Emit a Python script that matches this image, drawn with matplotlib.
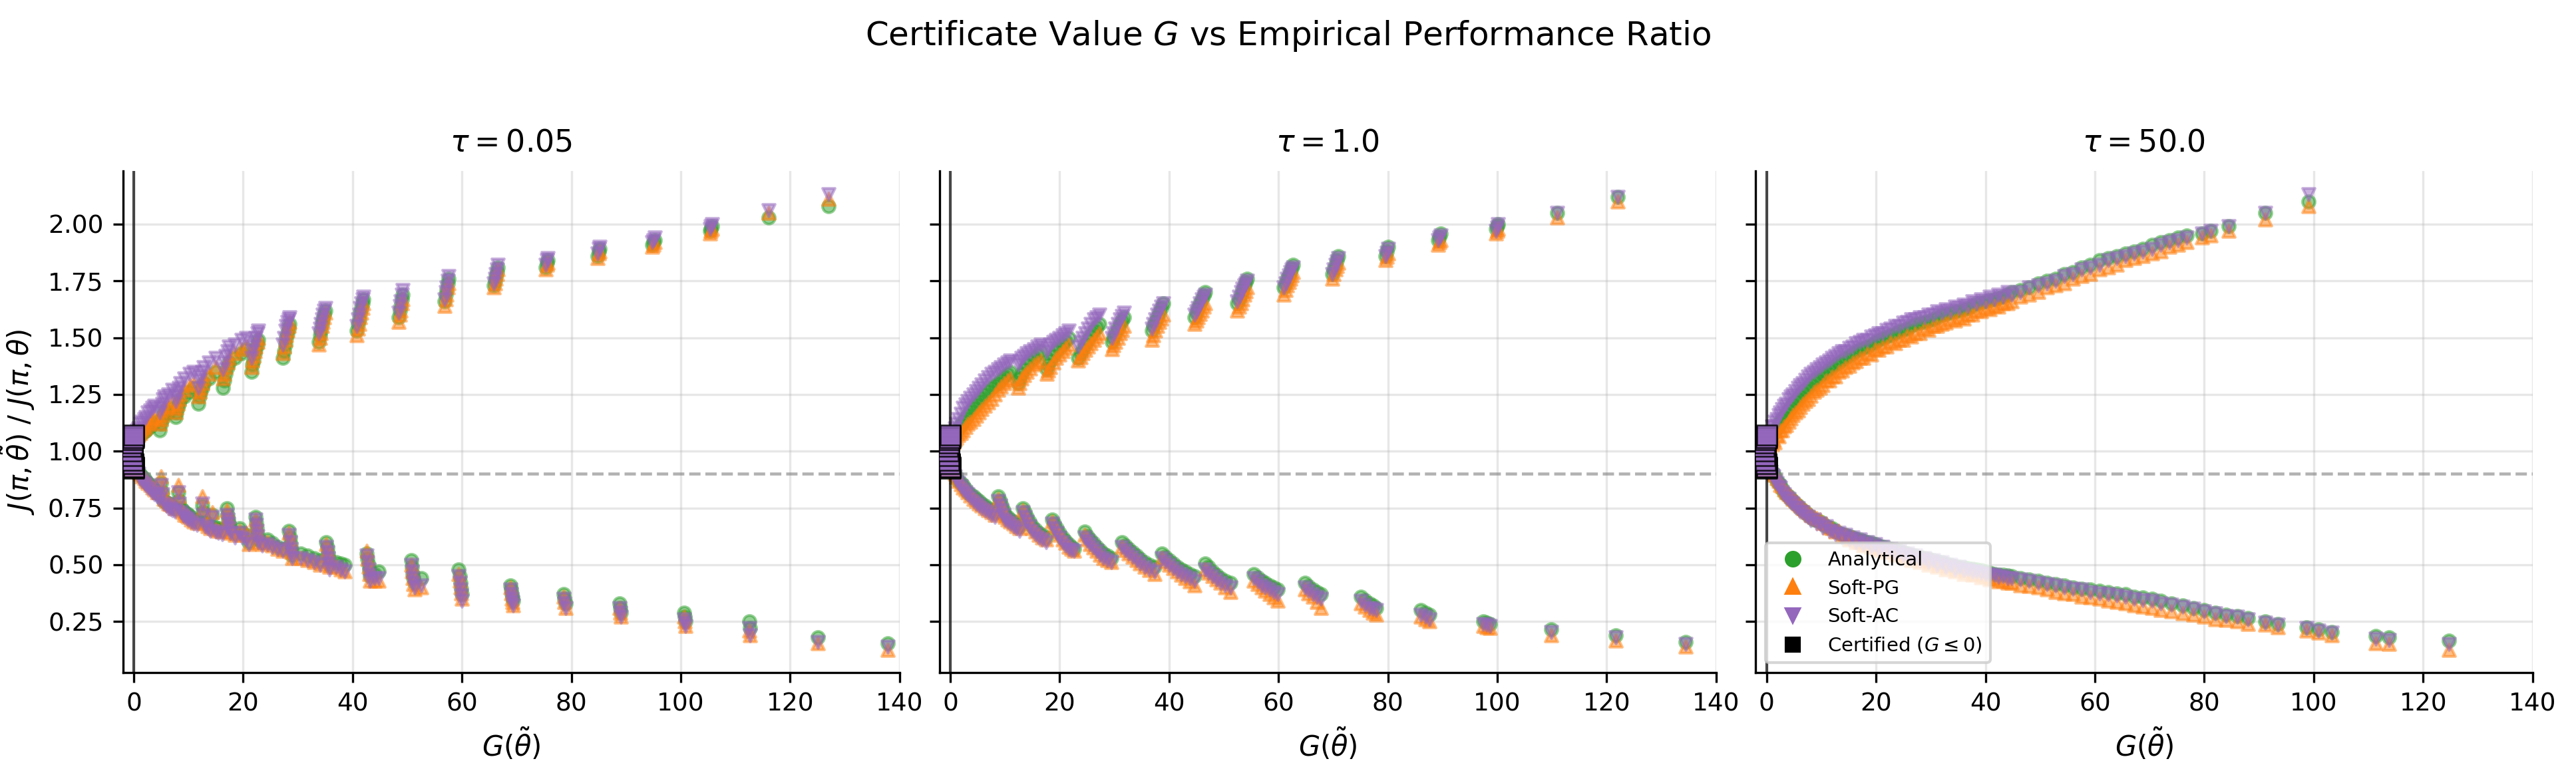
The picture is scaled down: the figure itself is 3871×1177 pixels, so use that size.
import matplotlib
matplotlib.use("Agg")
import matplotlib.pyplot as plt
from matplotlib.lines import Line2D

# ---- data (G value, ratio per method) ----

TAUS = ["0.05", "1.0", "50.0"]
METHODS = ["Analytical", "Soft-PG", "Soft-AC"]
COLORS = {"Analytical": "#2ca02c", "Soft-PG": "#ff7f0e", "Soft-AC": "#9467bd"}
MARKERS = {"Analytical": "o", "Soft-PG": "^", "Soft-AC": "v"}

# certified points (G <= 0), same look in every panel
CERT_G = [0.0, -0.1, -0.2, -0.3, -0.4, -0.5, -0.3, -0.2, -0.1, 0.0]
CERT_R_ANA = [0.925, 0.94, 0.955, 0.97, 0.99, 1.01, 1.03, 1.045, 1.06, 1.065]
CERT_R_PG = [0.93, 0.945, 0.96, 0.975, 0.99, 1.01, 1.025, 1.04, 1.055, 1.06]
CERT_R_AC = [0.93, 0.945, 0.96, 0.98, 1.00, 1.02, 1.035, 1.05, 1.06, 1.07]

# tau = 0.05, upper branch
T1_G_UP = [0.3, 0.8, 1.5, 2.2, 3.0, 3.8, 4.8, 5.2, 5.6, 6.3, 7.0, 7.6, 8.0, 8.5, 9.3, 10.2,
           11.8, 12.2, 12.8, 13.8, 15.0, 16.3, 16.8, 17.4, 18.5, 19.7, 21.5, 21.9, 22.3, 22.8,
           27.3, 27.7, 28.1, 28.5, 33.8, 34.2, 34.6, 35.0, 40.8, 41.2, 41.6, 42.0,
           48.4, 48.8, 49.2, 56.8, 57.2, 57.6, 65.8, 66.2, 66.6, 75.3, 75.7, 84.8, 85.2,
           94.8, 95.2, 105.3, 105.7, 116.0, 127.0,
           0.6, 1.2, 1.9, 2.6, 3.4, 5.0, 5.4, 7.8, 8.3, 11.0, 12.0, 12.5, 16.5, 17.1, 20.5,
           21.7, 22.1, 22.6, 27.5, 27.9, 28.3, 34.0, 34.4, 34.8, 41.0, 41.4, 41.8, 48.6, 49.0,
           57.0, 57.4, 66.0, 66.4, 75.5, 85.0, 95.0, 105.5]
T1_ANA_UP = [1.04, 1.06, 1.08, 1.09, 1.11, 1.13, 1.09, 1.14, 1.18, 1.17, 1.19, 1.15, 1.19, 1.23, 1.24, 1.26,
             1.21, 1.26, 1.30, 1.32, 1.35, 1.28, 1.34, 1.39, 1.41, 1.43, 1.35, 1.40, 1.45, 1.49,
             1.41, 1.47, 1.52, 1.56, 1.48, 1.53, 1.58, 1.62, 1.53, 1.58, 1.63, 1.67,
             1.59, 1.64, 1.69, 1.66, 1.71, 1.76, 1.73, 1.77, 1.81, 1.81, 1.84, 1.86, 1.89,
             1.91, 1.93, 1.97, 1.99, 2.03, 2.08,
             1.05, 1.07, 1.085, 1.10, 1.12, 1.12, 1.16, 1.17, 1.21, 1.28, 1.24, 1.28, 1.31, 1.37, 1.45,
             1.38, 1.43, 1.47, 1.44, 1.50, 1.54, 1.51, 1.56, 1.60, 1.56, 1.61, 1.65, 1.62, 1.67,
             1.69, 1.74, 1.75, 1.79, 1.83, 1.88, 1.92, 1.98]
T1_PG_UP = [1.05, 1.07, 1.09, 1.11, 1.13, 1.15, 1.12, 1.16, 1.19, 1.20, 1.22, 1.17, 1.21, 1.25, 1.27, 1.29,
            1.24, 1.28, 1.32, 1.34, 1.37, 1.32, 1.37, 1.41, 1.43, 1.45, 1.37, 1.42, 1.46, 1.50,
            1.43, 1.49, 1.53, 1.57, 1.47, 1.52, 1.57, 1.61, 1.51, 1.56, 1.61, 1.65,
            1.57, 1.62, 1.67, 1.64, 1.69, 1.74, 1.72, 1.76, 1.80, 1.80, 1.83, 1.85, 1.88,
            1.90, 1.92, 1.96, 1.98, 2.05, 2.11,
            1.06, 1.08, 1.10, 1.12, 1.14, 1.14, 1.18, 1.19, 1.23, 1.30, 1.26, 1.30, 1.34, 1.39, 1.46,
            1.40, 1.44, 1.48, 1.46, 1.51, 1.55, 1.50, 1.55, 1.59, 1.54, 1.59, 1.63, 1.60, 1.65,
            1.67, 1.72, 1.74, 1.78, 1.82, 1.87, 1.91, 1.97]
T1_AC_UP = [1.07, 1.10, 1.13, 1.15, 1.18, 1.20, 1.17, 1.21, 1.24, 1.25, 1.27, 1.22, 1.26, 1.30, 1.32, 1.34,
            1.28, 1.33, 1.37, 1.39, 1.41, 1.36, 1.42, 1.46, 1.47, 1.49, 1.41, 1.46, 1.50, 1.53,
            1.47, 1.53, 1.57, 1.59, 1.52, 1.56, 1.60, 1.63, 1.55, 1.60, 1.65, 1.68,
            1.61, 1.66, 1.71, 1.67, 1.72, 1.77, 1.74, 1.78, 1.82, 1.82, 1.85, 1.87, 1.90,
            1.92, 1.94, 1.98, 2.00, 2.06, 2.13,
            1.09, 1.12, 1.14, 1.17, 1.19, 1.19, 1.23, 1.24, 1.28, 1.35, 1.31, 1.35, 1.39, 1.44, 1.50,
            1.44, 1.48, 1.52, 1.50, 1.55, 1.58, 1.54, 1.58, 1.62, 1.58, 1.63, 1.67, 1.64, 1.69,
            1.70, 1.75, 1.76, 1.80, 1.84, 1.89, 1.93, 1.99]

# tau = 0.05, lower branch
T1_G_LO = [0.3, 0.8, 1.5, 2.2, 3.0, 3.8, 4.6, 5.0, 5.5, 6.3, 7.0, 8.1, 8.6, 9.3, 10.0, 11.0,
           12.5, 13.0, 14.0, 14.4, 15.5, 17.0, 17.3, 17.6, 18.5, 19.3, 20.5, 21.0,
           22.2, 22.5, 22.8, 24.4, 26.3, 28.4, 28.7, 29.0, 30.5, 33.0, 35.2, 35.5, 35.8,
           37.0, 38.6, 42.6, 42.9, 43.2, 44.8, 50.7, 51.0, 51.3, 52.5, 59.4, 59.7, 60.0,
           68.8, 69.1, 69.4, 78.6, 78.9, 88.8, 89.1, 100.6, 100.9, 112.5, 112.7, 125.0, 137.8,
           22.35, 22.65, 28.55, 28.85, 35.35, 35.65, 42.75, 43.05, 50.85, 51.15, 59.55, 59.85,
           68.95, 69.25, 78.75, 88.95, 100.75, 17.15, 17.45, 12.7, 8.3, 5.2,
           1.1, 1.9, 2.6, 3.4, 4.2, 5.9, 6.7, 7.5, 9.0, 9.7, 10.5, 11.5, 13.5, 15.0, 16.2,
           19.8, 23.5, 25.3, 27.3, 31.8, 34.0, 37.8, 44.0]
T1_ANA_LO = [0.93, 0.91, 0.89, 0.87, 0.85, 0.83, 0.81, 0.86, 0.78, 0.77, 0.76, 0.82, 0.75, 0.73, 0.72, 0.70,
             0.76, 0.69, 0.67, 0.72, 0.66, 0.75, 0.70, 0.66, 0.64, 0.66, 0.63, 0.60,
             0.71, 0.66, 0.61, 0.61, 0.58, 0.65, 0.59, 0.54, 0.55, 0.53, 0.60, 0.55, 0.50,
             0.51, 0.50, 0.55, 0.50, 0.45, 0.47, 0.52, 0.46, 0.42, 0.44, 0.48, 0.42, 0.37,
             0.41, 0.37, 0.34, 0.37, 0.33, 0.33, 0.29, 0.29, 0.25, 0.25, 0.22, 0.18, 0.155,
             0.685, 0.635, 0.62, 0.565, 0.575, 0.525, 0.525, 0.475, 0.49, 0.44, 0.45, 0.395,
             0.39, 0.355, 0.35, 0.31, 0.27, 0.72, 0.68, 0.73, 0.78, 0.82,
             0.90, 0.88, 0.86, 0.84, 0.82, 0.775, 0.765, 0.75, 0.74, 0.725, 0.71, 0.695, 0.68, 0.665, 0.655,
             0.64, 0.60, 0.595, 0.57, 0.54, 0.52, 0.505, 0.46]
T1_PG_LO = [0.93, 0.91, 0.89, 0.87, 0.85, 0.83, 0.82, 0.89, 0.79, 0.77, 0.76, 0.85, 0.74, 0.72, 0.71, 0.69,
            0.80, 0.68, 0.66, 0.73, 0.65, 0.74, 0.68, 0.64, 0.63, 0.65, 0.64, 0.59,
            0.70, 0.65, 0.60, 0.60, 0.57, 0.64, 0.58, 0.53, 0.53, 0.51, 0.59, 0.54, 0.49,
            0.49, 0.47, 0.56, 0.49, 0.43, 0.43, 0.50, 0.44, 0.39, 0.40, 0.46, 0.40, 0.35,
            0.40, 0.35, 0.32, 0.36, 0.31, 0.31, 0.27, 0.27, 0.23, 0.21, 0.19, 0.155, 0.125,
            0.675, 0.625, 0.61, 0.555, 0.565, 0.515, 0.525, 0.46, 0.47, 0.415, 0.43, 0.375,
            0.375, 0.335, 0.335, 0.29, 0.25, 0.71, 0.66, 0.75, 0.80, 0.84,
            0.90, 0.88, 0.86, 0.84, 0.82, 0.78, 0.765, 0.75, 0.73, 0.715, 0.70, 0.685, 0.67, 0.655, 0.645,
            0.63, 0.59, 0.585, 0.56, 0.52, 0.50, 0.48, 0.43]
T1_AC_LO = [0.92, 0.90, 0.87, 0.85, 0.83, 0.81, 0.79, 0.85, 0.77, 0.75, 0.74, 0.82, 0.73, 0.71, 0.70, 0.68,
            0.77, 0.67, 0.65, 0.71, 0.64, 0.72, 0.68, 0.64, 0.62, 0.64, 0.61, 0.59,
            0.70, 0.65, 0.60, 0.59, 0.57, 0.63, 0.57, 0.53, 0.53, 0.51, 0.58, 0.53, 0.48,
            0.49, 0.47, 0.54, 0.48, 0.43, 0.44, 0.50, 0.44, 0.40, 0.41, 0.45, 0.39, 0.34,
            0.39, 0.35, 0.32, 0.35, 0.31, 0.31, 0.27, 0.26, 0.23, 0.22, 0.19, 0.16, 0.14,
            0.675, 0.625, 0.60, 0.55, 0.555, 0.505, 0.51, 0.455, 0.47, 0.42, 0.42, 0.365,
            0.37, 0.335, 0.33, 0.29, 0.245, 0.70, 0.66, 0.72, 0.77, 0.81,
            0.88, 0.86, 0.84, 0.82, 0.80, 0.76, 0.745, 0.735, 0.72, 0.705, 0.69, 0.675, 0.66, 0.645, 0.635,
            0.62, 0.585, 0.58, 0.56, 0.52, 0.50, 0.48, 0.44]

# tau = 1.0, upper branch
T2_G_UP = [0.3, 0.8, 1.5, 2.3, 3.2, 4.2, 5.2, 6.3, 7.5, 8.7, 9.8, 11.0, 12.4, 13.0, 14.0, 15.3,
           16.5, 17.6, 18.3, 19.3, 20.5, 21.7, 23.4, 24.2, 25.2, 26.3, 27.3, 29.5, 30.2, 31.0,
           31.8, 36.8, 37.5, 38.2, 38.9, 44.6, 45.3, 46.0, 46.6, 52.4, 53.1, 53.8, 54.3,
           61.0, 61.6, 62.2, 62.7, 69.8, 70.4, 70.9, 79.6, 80.1, 89.2, 89.6, 99.8, 100.1,
           111.0, 122.0,
           0.55, 1.15, 1.9, 2.75, 3.7, 4.7, 5.75, 6.9, 8.1, 9.25, 10.4, 12.7, 13.5, 14.6, 15.9,
           17.9, 18.8, 19.9, 21.1, 23.8, 24.7, 25.7, 26.8, 29.85, 30.6, 31.4, 37.15, 37.85, 38.55,
           44.95, 45.65, 46.3, 52.75, 53.45, 54.05, 61.3, 61.9, 62.45, 70.1, 70.65, 79.85, 89.4, 99.95]
T2_ANA_UP = [1.04, 1.07, 1.10, 1.13, 1.16, 1.19, 1.22, 1.25, 1.28, 1.30, 1.33, 1.35, 1.30, 1.34, 1.38, 1.41,
             1.44, 1.36, 1.40, 1.44, 1.47, 1.50, 1.41, 1.45, 1.49, 1.53, 1.56, 1.48, 1.52, 1.56,
             1.59, 1.53, 1.57, 1.61, 1.65, 1.59, 1.63, 1.67, 1.70, 1.65, 1.69, 1.73, 1.76,
             1.72, 1.76, 1.79, 1.82, 1.78, 1.82, 1.86, 1.86, 1.90, 1.93, 1.96, 1.98, 2.00,
             2.05, 2.12,
             1.055, 1.085, 1.115, 1.145, 1.175, 1.205, 1.235, 1.265, 1.29, 1.315, 1.34, 1.32, 1.36, 1.395, 1.425,
             1.38, 1.42, 1.455, 1.485, 1.43, 1.47, 1.51, 1.545, 1.50, 1.54, 1.575, 1.55, 1.59, 1.63,
             1.61, 1.65, 1.685, 1.67, 1.71, 1.745, 1.74, 1.775, 1.805, 1.80, 1.84, 1.88, 1.945, 1.99]
T2_PG_UP = [1.03, 1.05, 1.07, 1.09, 1.12, 1.14, 1.17, 1.20, 1.23, 1.27, 1.30, 1.32, 1.28, 1.32, 1.35, 1.38,
            1.40, 1.34, 1.37, 1.41, 1.44, 1.47, 1.40, 1.43, 1.46, 1.49, 1.52, 1.45, 1.48, 1.52,
            1.55, 1.49, 1.53, 1.57, 1.60, 1.56, 1.59, 1.62, 1.65, 1.62, 1.65, 1.69, 1.72,
            1.69, 1.73, 1.76, 1.79, 1.76, 1.80, 1.83, 1.84, 1.87, 1.91, 1.93, 1.96, 1.98,
            2.03, 2.10,
            1.04, 1.06, 1.08, 1.105, 1.13, 1.155, 1.185, 1.215, 1.25, 1.285, 1.31, 1.30, 1.335, 1.365, 1.39,
            1.355, 1.39, 1.425, 1.455, 1.415, 1.445, 1.475, 1.505, 1.465, 1.50, 1.535, 1.51, 1.55, 1.585,
            1.575, 1.605, 1.635, 1.635, 1.67, 1.705, 1.71, 1.745, 1.775, 1.78, 1.815, 1.855, 1.92, 1.97]
T2_AC_UP = [1.06, 1.10, 1.14, 1.19, 1.22, 1.25, 1.28, 1.31, 1.34, 1.36, 1.38, 1.40, 1.38, 1.41, 1.43, 1.45,
            1.47, 1.44, 1.47, 1.49, 1.51, 1.53, 1.46, 1.50, 1.54, 1.58, 1.60, 1.50, 1.54, 1.58,
            1.61, 1.54, 1.58, 1.62, 1.65, 1.60, 1.63, 1.67, 1.69, 1.66, 1.70, 1.73, 1.75,
            1.72, 1.76, 1.79, 1.81, 1.78, 1.82, 1.85, 1.86, 1.89, 1.93, 1.95, 1.97, 2.00,
            2.05, 2.12,
            1.08, 1.12, 1.165, 1.205, 1.235, 1.265, 1.295, 1.325, 1.35, 1.37, 1.39, 1.395, 1.42, 1.44, 1.46,
            1.455, 1.48, 1.50, 1.52, 1.48, 1.52, 1.56, 1.59, 1.52, 1.56, 1.595, 1.56, 1.60, 1.635,
            1.615, 1.65, 1.68, 1.68, 1.715, 1.74, 1.74, 1.775, 1.80, 1.80, 1.835, 1.875, 1.94, 1.985]

# tau = 1.0, lower branch
T2_G_LO = [0.3, 0.8, 1.5, 2.3, 3.2, 4.2, 5.2, 6.3, 7.5, 8.8, 9.4, 10.0, 11.0, 12.0, 13.2, 14.0,
           15.0, 16.2, 17.5, 18.6, 19.5, 20.6, 21.6, 22.6, 24.6, 25.6, 26.8, 28.0, 29.4,
           31.4, 32.6, 34.0, 35.5, 37.3, 38.7, 40.0, 41.5, 43.0, 44.6, 46.6, 47.9, 49.4, 51.2,
           55.5, 56.9, 58.4, 59.8, 64.8, 66.3, 67.8, 75.1, 76.6, 77.8, 86.0, 87.6, 97.5, 98.6,
           109.8, 121.6, 134.4,
           1.1, 1.9, 2.75, 3.7, 4.7, 5.75, 6.9, 8.2, 9.1, 9.7, 10.5, 11.5, 12.6, 13.6, 14.5,
           15.6, 16.8, 19.0, 20.0, 21.1, 22.1, 25.1, 26.2, 27.4, 28.7, 32.0, 33.3, 34.7, 36.4,
           39.3, 40.7, 42.2, 43.8, 47.2, 48.6, 50.3, 56.2, 57.6, 59.1, 65.5, 67.0, 75.8, 77.2,
           86.8, 98.0]
T2_ANA_LO = [0.92, 0.90, 0.87, 0.85, 0.82, 0.80, 0.78, 0.76, 0.74, 0.80, 0.76, 0.72, 0.70, 0.68, 0.75, 0.71,
             0.67, 0.64, 0.62, 0.70, 0.66, 0.62, 0.59, 0.57, 0.645, 0.61, 0.58, 0.55, 0.53,
             0.60, 0.57, 0.54, 0.51, 0.49, 0.55, 0.52, 0.49, 0.47, 0.45, 0.505, 0.47, 0.44, 0.42,
             0.46, 0.43, 0.41, 0.39, 0.42, 0.39, 0.37, 0.36, 0.33, 0.31, 0.30, 0.28, 0.25, 0.24,
             0.215, 0.19, 0.16,
             0.885, 0.86, 0.835, 0.81, 0.79, 0.77, 0.75, 0.73, 0.78, 0.74, 0.71, 0.69, 0.67, 0.73, 0.69,
             0.655, 0.63, 0.68, 0.64, 0.605, 0.58, 0.625, 0.595, 0.565, 0.54, 0.585, 0.555, 0.525, 0.50,
             0.535, 0.505, 0.48, 0.46, 0.49, 0.455, 0.43, 0.445, 0.42, 0.40, 0.405, 0.38, 0.345, 0.32,
             0.29, 0.245]
T2_PG_LO = [0.92, 0.90, 0.87, 0.84, 0.82, 0.79, 0.77, 0.75, 0.73, 0.79, 0.75, 0.71, 0.69, 0.67, 0.74, 0.70,
            0.66, 0.63, 0.61, 0.69, 0.65, 0.61, 0.58, 0.56, 0.63, 0.59, 0.56, 0.53, 0.51,
            0.58, 0.55, 0.52, 0.49, 0.46, 0.53, 0.50, 0.47, 0.44, 0.41, 0.48, 0.45, 0.42, 0.38,
            0.43, 0.40, 0.37, 0.34, 0.39, 0.36, 0.31, 0.33, 0.30, 0.28, 0.27, 0.25, 0.23, 0.22,
            0.19, 0.165, 0.14,
            0.885, 0.855, 0.83, 0.805, 0.78, 0.76, 0.74, 0.72, 0.77, 0.73, 0.70, 0.68, 0.66, 0.72, 0.68,
            0.645, 0.62, 0.67, 0.63, 0.595, 0.57, 0.61, 0.575, 0.545, 0.52, 0.565, 0.535, 0.505, 0.475,
            0.515, 0.485, 0.455, 0.425, 0.465, 0.435, 0.40, 0.415, 0.385, 0.355, 0.375, 0.335, 0.315, 0.29,
            0.26, 0.225]
T2_AC_LO = [0.91, 0.89, 0.86, 0.83, 0.81, 0.78, 0.76, 0.74, 0.72, 0.78, 0.74, 0.70, 0.68, 0.66, 0.73, 0.69,
            0.65, 0.62, 0.60, 0.68, 0.64, 0.60, 0.57, 0.56, 0.62, 0.59, 0.56, 0.53, 0.51,
            0.58, 0.55, 0.52, 0.49, 0.47, 0.53, 0.50, 0.47, 0.45, 0.43, 0.48, 0.45, 0.42, 0.40,
            0.44, 0.41, 0.39, 0.37, 0.40, 0.37, 0.35, 0.34, 0.31, 0.30, 0.28, 0.26, 0.24, 0.23,
            0.205, 0.18, 0.15,
            0.875, 0.845, 0.82, 0.795, 0.77, 0.75, 0.73, 0.71, 0.76, 0.72, 0.69, 0.67, 0.65, 0.71, 0.67,
            0.635, 0.61, 0.66, 0.62, 0.585, 0.565, 0.605, 0.575, 0.545, 0.52, 0.565, 0.535, 0.505, 0.48,
            0.515, 0.485, 0.46, 0.44, 0.465, 0.435, 0.41, 0.425, 0.40, 0.38, 0.385, 0.36, 0.325, 0.305,
            0.27, 0.235]

# tau = 50.0, upper branch
T3_G_UP = [0.3, 0.7, 1.2, 1.8, 2.5, 3.2, 4.0, 4.8, 5.7, 6.6, 7.6, 8.6, 9.7, 10.8, 12.0, 13.2,
           14.4, 15.7, 17.0, 18.4, 19.8, 21.2, 22.7, 24.2, 25.7, 27.2, 28.8, 30.4, 32.0, 33.6,
           35.2, 36.8, 38.4, 40.0, 41.6, 43.2, 44.8, 46.4, 48.0, 49.6, 51.2, 52.8, 54.4, 56.0,
           57.6, 59.2, 60.8, 62.4, 64.0, 65.6, 67.2, 68.8, 70.4, 72.0, 73.6, 75.2, 76.8, 79.6,
           81.2, 84.4, 91.1, 99.1,
           0.5, 0.95, 1.5, 2.15, 2.85, 3.6, 4.4, 5.25, 6.15, 7.1, 8.1, 9.15, 10.25, 11.4, 12.6, 13.8,
           15.05, 16.35, 17.7, 19.1, 20.5, 21.95, 23.45, 24.95, 26.45, 28.0, 29.6, 31.2, 32.8, 34.4,
           36.0, 37.6, 39.2, 40.8, 42.4, 44.0]
T3_ANA_UP = [1.04, 1.06, 1.08, 1.10, 1.13, 1.15, 1.18, 1.21, 1.23, 1.26, 1.28, 1.31, 1.33, 1.35, 1.37, 1.39,
             1.41, 1.43, 1.45, 1.46, 1.48, 1.50, 1.51, 1.53, 1.54, 1.56, 1.57, 1.58, 1.60, 1.61,
             1.62, 1.63, 1.65, 1.66, 1.67, 1.68, 1.70, 1.71, 1.72, 1.74, 1.75, 1.76, 1.78, 1.79,
             1.81, 1.82, 1.84, 1.85, 1.86, 1.87, 1.88, 1.89, 1.91, 1.92, 1.93, 1.94, 1.95, 1.96,
             1.97, 1.99, 2.05, 2.10,
             1.05, 1.07, 1.09, 1.115, 1.14, 1.165, 1.195, 1.22, 1.245, 1.27, 1.295, 1.32, 1.34, 1.36, 1.38, 1.40,
             1.42, 1.44, 1.455, 1.47, 1.49, 1.505, 1.52, 1.535, 1.55, 1.565, 1.575, 1.59, 1.605, 1.615,
             1.625, 1.64, 1.655, 1.665, 1.675, 1.69]
T3_PG_UP = [1.03, 1.04, 1.05, 1.07, 1.09, 1.11, 1.13, 1.16, 1.18, 1.21, 1.23, 1.26, 1.28, 1.31, 1.33, 1.35,
            1.37, 1.39, 1.41, 1.43, 1.45, 1.46, 1.48, 1.49, 1.51, 1.52, 1.54, 1.55, 1.56, 1.58,
            1.59, 1.60, 1.62, 1.63, 1.64, 1.65, 1.66, 1.68, 1.69, 1.70, 1.72, 1.73, 1.74, 1.76,
            1.77, 1.78, 1.80, 1.81, 1.82, 1.84, 1.85, 1.86, 1.87, 1.88, 1.90, 1.91, 1.92, 1.94,
            1.95, 1.97, 2.02, 2.08,
            1.02, 1.03, 1.04, 1.065, 1.09, 1.115, 1.145, 1.17, 1.195, 1.22, 1.245, 1.27, 1.29, 1.31, 1.33, 1.355,
            1.375, 1.395, 1.41, 1.425, 1.445, 1.46, 1.475, 1.49, 1.505, 1.52, 1.535, 1.55, 1.565, 1.575,
            1.585, 1.60, 1.615, 1.625, 1.635, 1.65]
T3_AC_UP = [1.06, 1.08, 1.11, 1.14, 1.17, 1.20, 1.23, 1.25, 1.28, 1.30, 1.33, 1.35, 1.37, 1.39, 1.41, 1.43,
            1.44, 1.46, 1.48, 1.49, 1.51, 1.52, 1.54, 1.55, 1.57, 1.58, 1.59, 1.60, 1.61, 1.62,
            1.63, 1.64, 1.65, 1.66, 1.67, 1.68, 1.69, 1.70, 1.72, 1.73, 1.74, 1.75, 1.77, 1.78,
            1.80, 1.81, 1.82, 1.84, 1.85, 1.86, 1.87, 1.88, 1.89, 1.91, 1.92, 1.93, 1.94, 1.96,
            1.97, 1.99, 2.05, 2.13,
            1.08, 1.11, 1.13, 1.16, 1.185, 1.21, 1.24, 1.265, 1.29, 1.315, 1.34, 1.36, 1.38, 1.40, 1.42, 1.44,
            1.455, 1.475, 1.49, 1.505, 1.52, 1.535, 1.55, 1.565, 1.58, 1.59, 1.60, 1.615, 1.625, 1.635,
            1.645, 1.66, 1.67, 1.68, 1.69, 1.70]

# tau = 50.0, lower branch
T3_G_LO = [0.3, 0.7, 1.2, 1.8, 2.5, 3.2, 4.0, 4.8, 5.7, 6.6, 7.6, 8.6, 9.7, 10.8, 12.0, 13.2,
           14.4, 15.7, 17.0, 18.4, 19.8, 21.2, 22.7, 24.2, 25.7, 27.2, 28.8, 30.4, 32.0, 33.6,
           35.2, 36.8, 38.4, 40.0, 41.6, 43.2, 44.8, 46.4, 48.0, 49.6, 51.2, 52.8, 54.4, 56.0,
           57.6, 59.2, 60.8, 62.4, 64.0, 65.6, 67.2, 68.8, 70.4, 72.0, 74.0, 76.0, 78.0, 80.0,
           82.0, 84.0, 86.0, 88.0, 91.1, 93.4, 98.7, 100.9, 103.3, 111.3, 113.8, 124.7,
           0.5, 0.95, 1.5, 2.15, 2.85, 3.6, 4.4, 5.25, 6.15, 7.1, 8.1, 9.15, 10.25, 11.4, 12.6, 13.8,
           15.05, 16.35, 17.7, 19.1, 20.5, 21.95, 23.45, 24.95, 26.45, 28.0, 29.6, 31.2, 32.8, 34.4,
           36.0, 37.6, 39.2, 40.8, 42.4, 44.0]
T3_ANA_LO = [0.94, 0.92, 0.90, 0.87, 0.85, 0.82, 0.80, 0.78, 0.76, 0.74, 0.72, 0.70, 0.69, 0.67, 0.66, 0.64,
             0.63, 0.62, 0.61, 0.60, 0.59, 0.58, 0.57, 0.56, 0.55, 0.54, 0.53, 0.52, 0.51, 0.50,
             0.49, 0.485, 0.48, 0.47, 0.46, 0.455, 0.45, 0.44, 0.435, 0.43, 0.42, 0.415, 0.41, 0.40,
             0.395, 0.39, 0.385, 0.38, 0.375, 0.37, 0.36, 0.355, 0.35, 0.34, 0.33, 0.32, 0.31, 0.30,
             0.29, 0.28, 0.275, 0.265, 0.25, 0.24, 0.225, 0.215, 0.205, 0.185, 0.18, 0.165,
             0.93, 0.91, 0.885, 0.86, 0.835, 0.81, 0.79, 0.77, 0.75, 0.73, 0.71, 0.695, 0.68, 0.665, 0.65, 0.635,
             0.625, 0.615, 0.605, 0.595, 0.585, 0.575, 0.565, 0.555, 0.545, 0.535, 0.525, 0.515, 0.505, 0.495,
             0.487, 0.482, 0.475, 0.465, 0.457, 0.452]
T3_PG_LO = [0.94, 0.92, 0.90, 0.88, 0.85, 0.83, 0.81, 0.79, 0.77, 0.75, 0.73, 0.71, 0.70, 0.68, 0.66, 0.65,
            0.63, 0.62, 0.60, 0.59, 0.58, 0.57, 0.56, 0.55, 0.54, 0.53, 0.52, 0.51, 0.50, 0.49,
            0.48, 0.47, 0.46, 0.45, 0.44, 0.43, 0.42, 0.41, 0.405, 0.40, 0.39, 0.38, 0.375, 0.37,
            0.36, 0.355, 0.35, 0.34, 0.335, 0.33, 0.32, 0.315, 0.31, 0.30, 0.295, 0.285, 0.28, 0.27,
            0.26, 0.255, 0.25, 0.24, 0.235, 0.225, 0.21, 0.20, 0.19, 0.155, 0.15, 0.126,
            0.94, 0.92, 0.895, 0.87, 0.845, 0.82, 0.80, 0.78, 0.76, 0.74, 0.72, 0.705, 0.685, 0.665, 0.645, 0.625,
            0.61, 0.60, 0.585, 0.575, 0.565, 0.555, 0.545, 0.535, 0.52, 0.51, 0.50, 0.49, 0.48, 0.47,
            0.46, 0.455, 0.445, 0.435, 0.425, 0.42]
T3_AC_LO = [0.93, 0.91, 0.89, 0.86, 0.84, 0.81, 0.79, 0.77, 0.75, 0.73, 0.71, 0.70, 0.68, 0.67, 0.65, 0.64,
            0.63, 0.62, 0.61, 0.60, 0.59, 0.58, 0.57, 0.56, 0.55, 0.54, 0.53, 0.52, 0.51, 0.50,
            0.49, 0.48, 0.47, 0.46, 0.455, 0.45, 0.44, 0.435, 0.43, 0.42, 0.415, 0.41, 0.40, 0.395,
            0.39, 0.38, 0.375, 0.37, 0.365, 0.36, 0.35, 0.345, 0.34, 0.33, 0.325, 0.315, 0.305, 0.295,
            0.285, 0.275, 0.27, 0.26, 0.245, 0.235, 0.22, 0.21, 0.20, 0.175, 0.17, 0.15,
            0.915, 0.895, 0.87, 0.845, 0.82, 0.795, 0.775, 0.755, 0.735, 0.715, 0.695, 0.68, 0.665, 0.65, 0.635, 0.62,
            0.61, 0.60, 0.59, 0.58, 0.57, 0.56, 0.55, 0.54, 0.53, 0.52, 0.51, 0.50, 0.49, 0.48,
            0.475, 0.47, 0.465, 0.455, 0.447, 0.442]

PANELS = [
    (T1_G_UP, [T1_ANA_UP, T1_PG_UP, T1_AC_UP], T1_G_LO, [T1_ANA_LO, T1_PG_LO, T1_AC_LO]),
    (T2_G_UP, [T2_ANA_UP, T2_PG_UP, T2_AC_UP], T2_G_LO, [T2_ANA_LO, T2_PG_LO, T2_AC_LO]),
    (T3_G_UP, [T3_ANA_UP, T3_PG_UP, T3_AC_UP], T3_G_LO, [T3_ANA_LO, T3_PG_LO, T3_AC_LO]),
]
CERT_R = [CERT_R_ANA, CERT_R_PG, CERT_R_AC]


def draw_panel(ax, panel, tau):
    g_up, r_up, g_lo, r_lo = panel
    for i, m in enumerate(METHODS):
        ax.scatter(g_up + g_lo, r_up[i] + r_lo[i], s=20, marker=MARKERS[m],
                   color=COLORS[m], alpha=0.5, zorder=2)
        # certified points get a black-edged square
        ax.scatter(CERT_G, CERT_R[i], s=55, marker="s", facecolor=COLORS[m],
                   edgecolor="black", linewidths=0.6, alpha=0.85, zorder=4)
    ax.axvline(0, color="black", lw=1.0, alpha=0.7, zorder=3)
    ax.axhline(0.9, color="gray", ls="--", lw=1.1, alpha=0.6, zorder=3)
    ax.set_xlim(-2, 140)
    ax.set_ylim(0.025, 2.234)
    ax.set_xticks([0, 20, 40, 60, 80, 100, 120, 140])
    ax.set_yticks([0.25, 0.5, 0.75, 1.0, 1.25, 1.5, 1.75, 2.0])
    ax.grid(True, alpha=0.3)
    ax.set_axisbelow(True)
    ax.spines["top"].set_visible(False)
    ax.spines["right"].set_visible(False)
    ax.tick_params(labelsize=9)
    ax.set_xlabel(r"$G(\tilde{\theta})$", fontsize=10)
    ax.set_title(r"$\tau = " + tau + "$", fontsize=11, pad=7)


if __name__ == "__main__":
    fig = plt.figure(figsize=(3871 / 300, 1177 / 300), dpi=300)
    lefts = [184.6 / 3871, 1411.6 / 3871, 2638.4 / 3871]
    w = 1167.2 / 3871
    b = 166 / 1177
    h = 754 / 1177
    axes = []
    for k, l in enumerate(lefts):
        ax = fig.add_axes([l, b, w, h], sharey=axes[0] if axes else None)
        draw_panel(ax, PANELS[k], TAUS[k])
        if k > 0:
            ax.tick_params(labelleft=False)
        axes.append(ax)

    axes[0].set_ylabel(r"$J(\pi, \tilde{\theta})\ /\ J(\pi, \theta)$", fontsize=10)

    handles = [Line2D([], [], ls="", marker=MARKERS[m], color=COLORS[m], markersize=5, label=m)
               for m in METHODS]
    handles.append(Line2D([], [], ls="", marker="s", color="black", markersize=5,
                          label=r"Certified ($G \leq 0$)"))
    axes[2].legend(handles=handles, loc="lower left", fontsize=7)

    fig.text(0.5, 1 - 68 / 1177, "Certificate Value $G$ vs Empirical Performance Ratio",
             ha="center", va="baseline", fontsize=12)

    fig.savefig("out.png", dpi=300)
    plt.close(fig)
